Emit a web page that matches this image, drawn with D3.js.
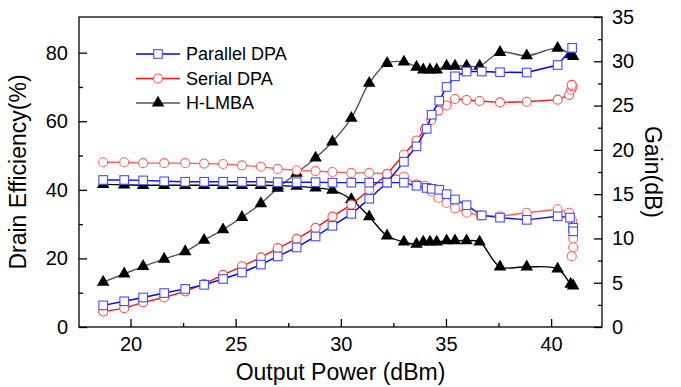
<!DOCTYPE html>
<html>
<head>
<meta charset="utf-8">
<script src="https://cdn.jsdelivr.net/npm/d3@7"></script>
<style>
  body { margin: 0; background: #fff; }
  text { font-family: "Liberation Sans", Arial, sans-serif; }
</style>
</head>
<body>
<div id="chart"></div>
<script>
// data
var lowPower = [18.7, 19.7, 20.6, 21.6, 22.6, 23.5, 24.4, 25.3, 26.2, 27.0, 27.9, 28.8, 29.6, 30.5, 31.35, 32.2, 33.0];

var parEffPower = lowPower.concat([33.6, 34.08, 34.32, 34.68, 35.03, 35.43, 35.98, 36.7, 37.57, 38.84, 40.31, 41.0]);
var parEff = [6.3, 7.5, 8.6, 9.9, 11.1, 12.3, 14.0, 15.9, 18.2, 20.6, 23.2, 26.4, 29.5, 33.0, 37.4, 42.1, 48.2,
  52.7, 57.8, 61.9, 66.0, 70.0, 73.1, 74.5, 74.5, 74.3, 74.2, 76.4, 81.4];

var parGainPower = lowPower.concat([33.6, 34.08, 34.32, 34.68, 35.03, 35.43, 35.98, 36.7, 37.57, 38.84, 40.31, 40.9, 41.05, 41.05]);
var parGain = [16.6, 16.6, 16.55, 16.45, 16.4, 16.4, 16.4, 16.4, 16.4, 16.35, 16.35, 16.35, 16.3, 16.3, 16.3, 16.3, 16.3,
  15.95, 15.7, 15.6, 15.5, 15.0, 14.4, 13.75, 12.6, 12.35, 12.1, 12.5, 12.35, 11.2, 10.8];

var serEffPower = lowPower.concat([33.6, 34.0, 34.3, 34.64, 35.03, 35.43, 35.98, 36.6, 37.57, 38.84, 40.31, 40.86, 40.95, 41.02, 40.98]);
var serEff = [4.5, 5.5, 7.2, 8.6, 10.4, 12.6, 15.2, 17.7, 20.3, 23.0, 25.7, 28.9, 32.2, 35.7, 40.0, 44.6, 50.3,
  54.4, 57.7, 60.4, 63.1, 64.6, 66.5, 66.2, 65.9, 65.5, 65.7, 66.3, 67.7, 69.2, 70.1, 70.6];

var serGainPower = lowPower.concat([33.6, 34.0, 34.32, 34.64, 35.03, 35.43, 35.98, 36.65, 37.57, 38.84, 40.31, 40.86, 41.0, 41.05, 41.05, 41.05, 40.98]);
var serGain = [18.6, 18.6, 18.5, 18.5, 18.5, 18.45, 18.4, 18.25, 18.1, 17.85, 17.7, 17.6, 17.5, 17.4, 17.4, 17.3, 17.0,
  16.1, 15.95, 15.3, 14.6, 14.0, 13.4, 12.9, 12.6, 12.5, 12.9, 13.3, 12.9, 12.0, 11.0, 10.0, 9.0, 8.0];

var lmbaPower = lowPower.concat([33.6, 33.92, 34.24, 34.56, 35.03, 35.43, 35.98, 36.6, 37.57, 38.84, 40.31, 40.93, 41.05]);
var lmbaEff = [13.1, 15.5, 17.7, 19.8, 22.0, 25.3, 28.4, 32.0, 36.0, 40.5, 44.9, 49.3, 54.0, 60.9, 71.1, 76.9, 77.3,
  75.8, 75.0, 75.0, 75.0, 76.1, 76.1, 76.1, 76.1, 80.1, 79.1, 81.3, 79.4, 78.9];
var lmbaGain = [16.1, 16.05, 16.0, 16.0, 16.0, 16.0, 16.0, 16.0, 16.0, 15.95, 15.9, 15.7, 15.45, 14.4, 12.45, 10.3, 9.6,
  9.35, 9.6, 9.6, 9.6, 9.75, 9.75, 9.75, 9.6, 6.8, 6.8, 6.55, 4.85, 4.65];

var xTicks = [20, 25, 30, 35, 40];
var effTicks = [0, 20, 40, 60, 80];
var gainTicks = [0, 5, 10, 15, 20, 25, 30, 35];
var legendNames = ["Parallel DPA", "Serial DPA", "H-LMBA"];

var svgWidth = 681;
var svgHeight = 387;
var margin = { top: 17, right: 79, bottom: 60, left: 79 };
var width = svgWidth - margin.left - margin.right;
var height = svgHeight - margin.top - margin.bottom;

var svg = d3.select("#chart")
  .append("svg")
  .attr("width", svgWidth)
  .attr("height", svgHeight);

var chartGroup = svg.append("g")
  .attr("transform", `translate(${margin.left}, ${margin.top})`);

var xScale = d3.scaleLinear().domain([17.55, 42.42]).range([0, width]);
var effScale = d3.scaleLinear().domain([0, 90.4]).range([height, 0]);
var gainScale = d3.scaleLinear().domain([0, 35]).range([height, 0]);

function styleAxis(g) {
  g.select(".domain").remove();
  g.selectAll("line").attr("stroke", "#000").attr("stroke-width", 1.3);
  g.selectAll("text").attr("font-size", "20px").attr("fill", "#000");
}

// major + minor ticks, drawn inward
chartGroup.append("g")
  .attr("transform", `translate(0, ${height})`)
  .call(d3.axisBottom(xScale).tickValues(xTicks).tickSize(-8).tickPadding(10))
  .call(styleAxis);
chartGroup.append("g")
  .attr("transform", `translate(0, ${height})`)
  .call(d3.axisBottom(xScale).tickValues([22.5, 27.5, 32.5, 37.5]).tickFormat("").tickSize(-4))
  .call(styleAxis);

chartGroup.append("g")
  .call(d3.axisLeft(effScale).tickValues(effTicks).tickSize(-8).tickPadding(11))
  .call(styleAxis);
chartGroup.append("g")
  .call(d3.axisLeft(effScale).tickValues([10, 30, 50, 70]).tickFormat("").tickSize(-4))
  .call(styleAxis);

chartGroup.append("g")
  .attr("transform", `translate(${width}, 0)`)
  .call(d3.axisRight(gainScale).tickValues(gainTicks).tickSize(-8).tickPadding(10))
  .call(styleAxis);
chartGroup.append("g")
  .attr("transform", `translate(${width}, 0)`)
  .call(d3.axisRight(gainScale).tickValues([2.5, 7.5, 12.5, 17.5, 22.5, 27.5, 32.5]).tickFormat("").tickSize(-4))
  .call(styleAxis);

// frame
chartGroup.append("rect")
  .attr("width", width)
  .attr("height", height)
  .attr("fill", "none")
  .attr("stroke", "#000")
  .attr("stroke-width", 1.3);

// axis titles
chartGroup.append("text")
  .attr("x", width / 2)
  .attr("y", height + 53)
  .attr("text-anchor", "middle")
  .attr("font-size", "23px")
  .text("Output Power (dBm)");

chartGroup.append("text")
  .attr("transform", `translate(${-53}, ${height / 2}) rotate(-90)`)
  .attr("text-anchor", "middle")
  .attr("font-size", "23px")
  .text("Drain Efficiency(%)");

chartGroup.append("text")
  .attr("transform", `translate(${width + 43}, ${height / 2}) rotate(90)`)
  .attr("text-anchor", "middle")
  .attr("font-size", "23px")
  .text("Gain(dB)");

var triangle = d3.symbol().type(d3.symbolTriangle).size(68);

function drawSeries(xs, ys, yScale, opts) {
  var pts = xs.map((x, i) => [x, ys[i]]);
  var line = d3.line()
    .x(d => xScale(d[0]))
    .y(d => yScale(d[1]))
    .curve(opts.smooth ? d3.curveCatmullRom.alpha(0.5) : d3.curveLinear);
  chartGroup.append("path")
    .datum(pts)
    .attr("d", line)
    .attr("fill", "none")
    .attr("stroke", opts.line)
    .attr("stroke-width", 1.4);

  var marks = chartGroup.append("g");
  if (opts.marker === "square") {
    marks.selectAll("rect").data(pts).enter().append("rect")
      .attr("x", d => xScale(d[0]) - 4.3)
      .attr("y", d => yScale(d[1]) - 4.3)
      .attr("width", 8.6)
      .attr("height", 8.6)
      .attr("fill", "#fff")
      .attr("stroke", opts.mark)
      .attr("stroke-width", 1.1);
  } else if (opts.marker === "circle") {
    marks.selectAll("circle").data(pts).enter().append("circle")
      .attr("cx", d => xScale(d[0]))
      .attr("cy", d => yScale(d[1]))
      .attr("r", 4.5)
      .attr("fill", "#fff")
      .attr("stroke", opts.mark)
      .attr("stroke-width", 1.1);
  } else {
    marks.selectAll("path").data(pts).enter().append("path")
      .attr("d", triangle)
      .attr("transform", d => `translate(${xScale(d[0])}, ${yScale(d[1])})`)
      .attr("fill", "#000");
  }
}

drawSeries(lmbaPower, lmbaGain, gainScale, { line: "#000", marker: "triangle", smooth: true });
drawSeries(lmbaPower, lmbaEff, effScale, { line: "#555", marker: "triangle", smooth: true });
drawSeries(serGainPower, serGain, gainScale, { line: "#ff5a5a", mark: "#ff6a6a", marker: "circle" });
drawSeries(serEffPower, serEff, effScale, { line: "#ff1010", mark: "#ff5050", marker: "circle" });
drawSeries(parGainPower, parGain, gainScale, { line: "#1010ff", mark: "#4a4aff", marker: "square" });
drawSeries(parEffPower, parEff, effScale, { line: "#0000ff", mark: "#4a4aff", marker: "square" });

// legend
var legendStyles = [
  { line: "#0000ff", mark: "#4a4aff", marker: "square" },
  { line: "#ff1010", mark: "#ff5050", marker: "circle" },
  { line: "#555", mark: "#000", marker: "triangle" }
];
var legend = svg.append("g");
legendNames.forEach(function(name, i) {
  var y = 54 + i * 24.5;
  var s = legendStyles[i];
  legend.append("line")
    .attr("x1", 136).attr("x2", 180)
    .attr("y1", y).attr("y2", y)
    .attr("stroke", s.line)
    .attr("stroke-width", 1.4);
  if (s.marker === "square") {
    legend.append("rect")
      .attr("x", 153.7).attr("y", y - 4.3).attr("width", 8.6).attr("height", 8.6)
      .attr("fill", "#fff").attr("stroke", s.mark).attr("stroke-width", 1.1);
  } else if (s.marker === "circle") {
    legend.append("circle")
      .attr("cx", 158).attr("cy", y).attr("r", 4.5)
      .attr("fill", "#fff").attr("stroke", s.mark).attr("stroke-width", 1.1);
  } else {
    legend.append("path")
      .attr("d", triangle)
      .attr("transform", `translate(158, ${y})`)
      .attr("fill", "#000");
  }
  legend.append("text")
    .attr("x", 186)
    .attr("y", y + 6)
    .attr("font-size", "18px")
    .text(name);
});
</script>
</body>
</html>
